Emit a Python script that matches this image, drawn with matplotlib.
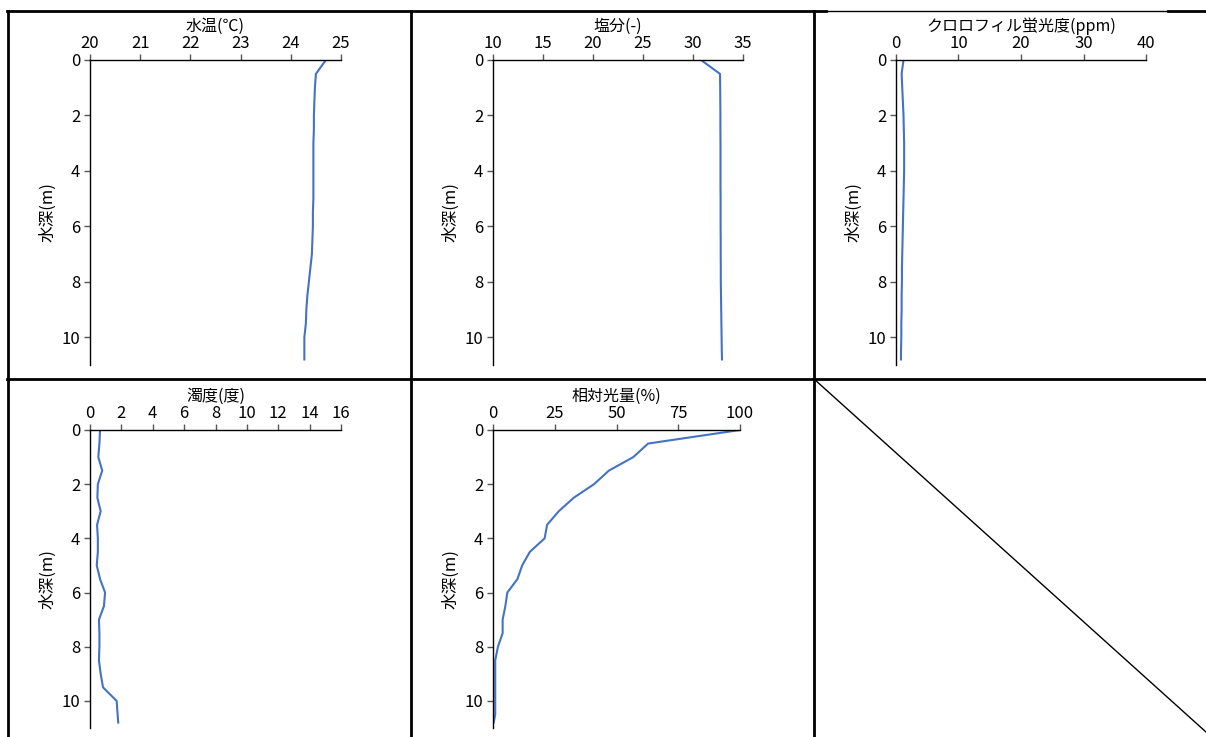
import matplotlib
matplotlib.use("Agg")
import matplotlib.pyplot as plt
from matplotlib.lines import Line2D

plt.rcParams['font.family'] = ['Noto Sans CJK JP', 'DejaVu Sans']

# depths (m)
depth = [0, 0.5, 1, 1.5, 2, 2.5, 3, 3.5, 4, 4.5, 5, 5.5, 6, 6.5, 7, 7.5,
         8, 8.5, 9, 9.5, 10, 10.5, 10.8]

temp = [24.70, 24.50, 24.48, 24.47, 24.46, 24.46, 24.45, 24.45, 24.45, 24.45,
        24.45, 24.44, 24.44, 24.43, 24.42, 24.39, 24.36, 24.33, 24.31, 24.30,
        24.27, 24.27, 24.27]
salinity = [30.8, 32.7, 32.72, 32.73, 32.74, 32.74, 32.75, 32.75, 32.75, 32.75,
            32.76, 32.76, 32.76, 32.77, 32.77, 32.78, 32.78, 32.8, 32.82, 32.84,
            32.86, 32.88, 32.9]
chl = [1.2, 0.9, 1.0, 1.1, 1.2, 1.25, 1.3, 1.3, 1.3, 1.25, 1.2, 1.15, 1.1,
       1.05, 1.0, 0.95, 0.95, 0.9, 0.9, 0.85, 0.85, 0.8, 0.8]
turbidity = [0.64, 0.6, 0.53, 0.78, 0.5, 0.47, 0.68, 0.45, 0.5, 0.5, 0.43, 0.64,
             0.96, 0.89, 0.57, 0.6, 0.6, 0.57, 0.68, 0.83, 1.7, 1.76, 1.8]
light = [100, 62.8, 56.8, 46.9, 40.9, 32.7, 26.6, 21.9, 20.9, 14.9, 11.8, 9.9,
         5.8, 5.0, 3.9, 3.9, 2.0, 0.9, 0.9, 0.9, 0.9, 0.9, 0.3]

titles = ['水温(℃)', '塩分(-)', 'クロロフィル蛍光度(ppm)', '濁度(度)', '相対光量(%)']
series = [temp, salinity, chl, turbidity, light]
xlims = [(20, 25), (10, 35), (0, 40), (0, 16), (0, 100)]
xsteps = [1, 5, 10, 2, 25]

W, H = 1206, 737
fig = plt.figure(figsize=(W / 100, H / 100), dpi=100)

# axes boxes in pixels: left, top, width, bottom
boxes = [(90, 60, 251, 365), (493, 60, 250, 365), (896, 60, 250, 365),
         (90, 430, 251, 728), (493, 430, 247, 728)]

line_color = '#4472C4'

for box, title, vals, xl, st in zip(boxes, titles, series, xlims, xsteps):
    l, t, w, b = box
    ax = fig.add_axes([l / W, 1 - b / H, w / W, (b - t) / H])
    ax.plot(vals, depth, color=line_color, lw=1.5)
    ax.set_xlim(*xl)
    ax.set_ylim(11, 0)
    ticks = list(range(xl[0], xl[1] + 1, st))
    ax.set_xticks(ticks)
    ax.set_yticks([0, 2, 4, 6, 8, 10])
    ax.xaxis.tick_top()
    ax.spines['bottom'].set_visible(False)
    ax.spines['right'].set_visible(False)
    for s in ('top', 'left'):
        ax.spines[s].set_linewidth(1.0)
    ax.tick_params(axis='both', direction='out', length=4, width=1.0,
                   labelsize=12, color='#555555')
    ax.tick_params(axis='x', pad=2)
    ax.tick_params(axis='y', pad=3)
    ax.set_title(title, fontsize=11.5, pad=1)
    ax.set_ylabel('水深(m)', fontsize=12, labelpad=4)

# cell borders
def seg(x0, y0, x1, y1, lw=2.0):
    fig.add_artist(Line2D([x0 / W, x1 / W], [1 - y0 / H, 1 - y1 / H],
                          color='black', lw=lw))

seg(7, 11, 826, 11)
seg(826, 11, 1168, 11, lw=1.0)
seg(1168, 11, 1206, 11)
seg(7, 379, 1206, 379)
seg(8, 11, 8, 737)
seg(411, 11, 411, 737)
seg(814, 11, 814, 737)
seg(814, 379, 1206, 732, lw=1.0)

fig.savefig('out.png', dpi=100)
